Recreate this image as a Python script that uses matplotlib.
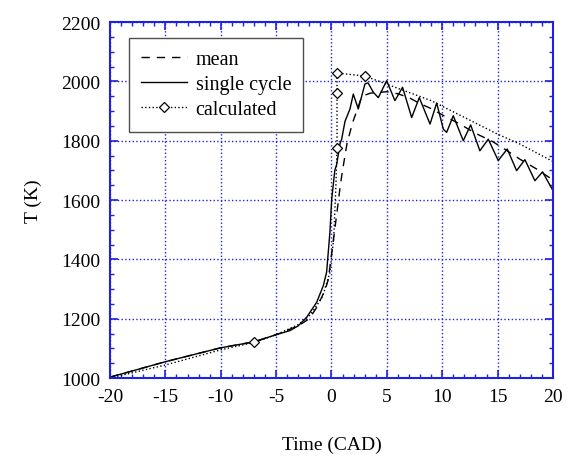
import matplotlib
matplotlib.use("Agg")
import matplotlib.pyplot as plt
from matplotlib.ticker import MultipleLocator

plt.rcParams['font.family'] = ['Liberation Serif', 'DejaVu Serif']
plt.rcParams['axes.unicode_minus'] = False

# single cycle (solid)
cyc_x = [-20, -15, -10, -7, -5, -3.75, -3, -2.24, -1.34, -0.74, -0.44, -0.29, -0.14,
         0.02, 0.3, 0.47, 0.77, 0.92, 1.22, 1.67, 1.97, 2.42, 3.02, 3.3, 3.78, 4.23,
         4.98, 5.73, 6.42, 7.24, 7.93, 8.9, 9.5, 10.1, 10.4, 11.0, 11.9, 12.57, 13.4,
         14.16, 15.06, 15.87, 16.72, 17.47, 18.37, 19.06, 20]
cyc_y = [1003, 1055, 1102, 1122, 1146, 1160, 1176, 1205, 1255, 1311, 1357, 1424, 1492,
         1603, 1700, 1720, 1790, 1805, 1865, 1907, 1957, 1907, 1991, 1995, 1963, 1945,
         2002, 1935, 1980, 1878, 1945, 1856, 1927, 1839, 1828, 1884, 1800, 1853, 1766,
         1805, 1733, 1772, 1699, 1736, 1665, 1695, 1632]

# mean (dashed)
mean_x = [-20, -15, -10, -7, -5, -3, -2, -1.3, -0.6, -0.3, 0, 0.5, 0.8, 1.0, 1.4,
          1.9, 2.75, 3.5, 4, 5, 6, 7, 8, 9, 10.2, 11.5, 13, 14.5, 15.5, 17, 18.5,
          19.3, 20]
mean_y = [1003, 1055, 1102, 1122, 1146, 1176, 1200, 1240, 1295, 1330, 1415, 1560,
          1650, 1700, 1790, 1860, 1950, 1960, 1962, 1965, 1958, 1945, 1925, 1908,
          1883, 1858, 1825, 1798, 1775, 1738, 1705, 1685, 1668]

# calculated (dotted with diamonds)
calc_x = [-20, -15, -10, -7, -5, -3, -2, -1.5, -0.8, -0.15, 0.2, 0.4, 0.5, 0.5, 0.5,
          3, 9, 15, 17, 20]
calc_y = [1000, 1044, 1095, 1120, 1146, 1180, 1210, 1235, 1275, 1355, 1470, 1650,
          1777, 1960, 2028, 2018, 1935, 1822, 1789, 1730]
calc_marks = [3, 12, 13, 14, 15]

fig = plt.figure(figsize=(5.73, 4.6), dpi=100)
ax = fig.add_axes([0.192, 0.176, 0.773, 0.774])

ax.plot(mean_x, mean_y, color='black', linestyle=(0, (6, 5)), linewidth=1.0, label='mean')
ax.plot(cyc_x, cyc_y, color='black', linestyle='-', linewidth=1.0, label='single cycle')
ax.plot(calc_x, calc_y, color='black', linestyle=':', linewidth=1.0, marker='D',
        markersize=5.5, markerfacecolor='white', markeredgewidth=0.9,
        markevery=calc_marks, label='calculated')

ax.set_xlim(-20, 20)
ax.set_ylim(1000, 2200)
ax.xaxis.set_major_locator(MultipleLocator(5))
ax.xaxis.set_minor_locator(MultipleLocator(1))
ax.yaxis.set_major_locator(MultipleLocator(200))
ax.yaxis.set_minor_locator(MultipleLocator(50))

blue = '#2020e0'
ax.grid(which='major', color=blue, linestyle=':', linewidth=1.0)
for s in ax.spines.values():
    s.set_color(blue)
    s.set_linewidth(1.5)
ax.tick_params(which='both', direction='in', top=True, right=True, color=blue,
               labelsize=14, labelcolor='black')
ax.tick_params(which='major', length=6, width=1.2, pad=7)
ax.tick_params(which='minor', length=3, width=1.0)

ax.set_xlabel('Time (CAD)', fontsize=14, labelpad=22)
ax.set_ylabel('T (K)', fontsize=14, labelpad=14)

leg = ax.legend(loc='upper left', bbox_to_anchor=(0.043, 0.955), borderaxespad=0,
                fontsize=14.5, fancybox=False, framealpha=1, edgecolor='0.3',
                handlelength=2.3, handletextpad=0.4, labelspacing=0.3,
                borderpad=0.6)
leg.get_frame().set_linewidth(1.0)

fig.savefig('out.png', dpi=100)
